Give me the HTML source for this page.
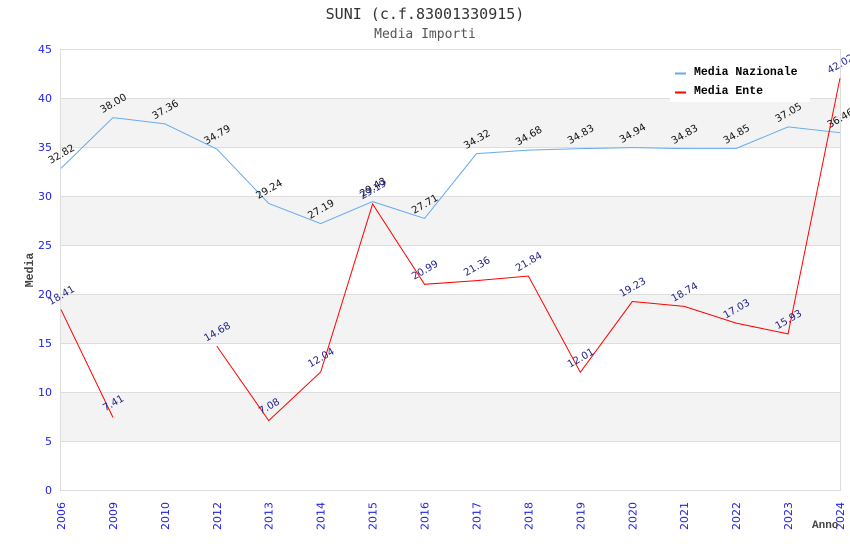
<!DOCTYPE html>
<html><head><meta charset="utf-8"><style>
html,body{margin:0;padding:0;background:#fff;}
svg{display:block;}
</style></head><body>
<svg width="850" height="550" viewBox="0 0 850 550" xmlns="http://www.w3.org/2000/svg">
<rect x="0" y="0" width="850" height="550" fill="#fff"/>
<g fill="#f3f3f3">
<rect x="61" y="98" width="779" height="49"/>
<rect x="61" y="196" width="779" height="49"/>
<rect x="61" y="294" width="779" height="49"/>
<rect x="61" y="392" width="779" height="49"/>
</g>
<g stroke="#dddddd" stroke-width="1">
<line x1="61" y1="98.5" x2="840" y2="98.5"/>
<line x1="61" y1="147.5" x2="840" y2="147.5"/>
<line x1="61" y1="196.5" x2="840" y2="196.5"/>
<line x1="61" y1="245.5" x2="840" y2="245.5"/>
<line x1="61" y1="294.5" x2="840" y2="294.5"/>
<line x1="61" y1="343.5" x2="840" y2="343.5"/>
<line x1="61" y1="392.5" x2="840" y2="392.5"/>
<line x1="61" y1="441.5" x2="840" y2="441.5"/>
<rect x="60.5" y="49.5" width="780" height="441" fill="none"/>
</g>
<text x="425" y="19" text-anchor="middle" font-family="DejaVu Sans Mono, Liberation Mono, monospace" font-size="15" fill="#333">SUNI (c.f.83001330915)</text>
<text x="425" y="38" text-anchor="middle" font-family="DejaVu Sans Mono, Liberation Mono, monospace" font-size="13" fill="#555">Media Importi</text>
<g font-family="DejaVu Sans, sans-serif" font-size="11" fill="#2222ee" text-anchor="end">
<text x="52" y="53">45</text>
<text x="52" y="102">40</text>
<text x="52" y="151">35</text>
<text x="52" y="200">30</text>
<text x="52" y="249">25</text>
<text x="52" y="298">20</text>
<text x="52" y="347">15</text>
<text x="52" y="396">10</text>
<text x="52" y="445">5</text>
<text x="52" y="494">0</text>
</g>
<g font-family="DejaVu Sans, sans-serif" font-size="11" fill="#2222ee" text-anchor="end">
<text transform="translate(65,502) rotate(-90)">2006</text>
<text transform="translate(116.93,502) rotate(-90)">2009</text>
<text transform="translate(168.87,502) rotate(-90)">2010</text>
<text transform="translate(220.8,502) rotate(-90)">2012</text>
<text transform="translate(272.73,502) rotate(-90)">2013</text>
<text transform="translate(324.67,502) rotate(-90)">2014</text>
<text transform="translate(376.6,502) rotate(-90)">2015</text>
<text transform="translate(428.53,502) rotate(-90)">2016</text>
<text transform="translate(480.47,502) rotate(-90)">2017</text>
<text transform="translate(532.4,502) rotate(-90)">2018</text>
<text transform="translate(584.33,502) rotate(-90)">2019</text>
<text transform="translate(636.27,502) rotate(-90)">2020</text>
<text transform="translate(688.2,502) rotate(-90)">2021</text>
<text transform="translate(740.13,502) rotate(-90)">2022</text>
<text transform="translate(792.07,502) rotate(-90)">2023</text>
<text transform="translate(844,502) rotate(-90)">2024</text>
</g>
<text x="812" y="528" font-family="Liberation Mono, DejaVu Sans Mono, monospace" font-weight="bold" font-size="11" fill="#444">Anno</text>
<text transform="translate(33,270) rotate(-90)" text-anchor="middle" font-family="Liberation Mono, DejaVu Sans Mono, monospace" font-weight="bold" font-size="11.5" fill="#444">Media</text>
<polyline fill="none" stroke="#66aaee" stroke-width="1" points="61,168.36 112.93,117.6 164.87,123.87 216.8,149.06 268.73,203.45 320.67,223.54 372.6,201.59 424.53,218.44 476.47,153.66 528.4,150.14 580.33,148.67 632.27,147.59 684.2,148.67 736.13,148.47 788.07,126.91 840,132.69"/>
<polyline fill="none" stroke="#ff0000" stroke-width="1" points="61,309.58 112.93,417.38"/>
<polyline fill="none" stroke="#ff0000" stroke-width="1" points="216.8,346.14 268.73,420.62 320.67,372.01 372.6,203.94 424.53,284.3 476.47,280.67 528.4,275.97 580.33,372.3 632.27,301.55 684.2,306.35 736.13,323.11 788.07,333.89 840,78.2"/>
<g font-family="DejaVu Sans, sans-serif" font-size="10" fill="#111" text-anchor="middle">
<text transform="translate(61,153.36) rotate(-30)" y="4">32.82</text>
<text transform="translate(112.93,102.6) rotate(-30)" y="4">38.00</text>
<text transform="translate(164.87,108.87) rotate(-30)" y="4">37.36</text>
<text transform="translate(216.8,134.06) rotate(-30)" y="4">34.79</text>
<text transform="translate(268.73,188.45) rotate(-30)" y="4">29.24</text>
<text transform="translate(320.67,208.54) rotate(-30)" y="4">27.19</text>
<text transform="translate(372.6,186.59) rotate(-30)" y="4">29.43</text>
<text transform="translate(424.53,203.44) rotate(-30)" y="4">27.71</text>
<text transform="translate(476.47,138.66) rotate(-30)" y="4">34.32</text>
<text transform="translate(528.4,135.14) rotate(-30)" y="4">34.68</text>
<text transform="translate(580.33,133.67) rotate(-30)" y="4">34.83</text>
<text transform="translate(632.27,132.59) rotate(-30)" y="4">34.94</text>
<text transform="translate(684.2,133.67) rotate(-30)" y="4">34.83</text>
<text transform="translate(736.13,133.47) rotate(-30)" y="4">34.85</text>
<text transform="translate(788.07,111.91) rotate(-30)" y="4">37.05</text>
<text transform="translate(840,117.69) rotate(-30)" y="4">36.46</text>
</g>
<g font-family="DejaVu Sans, sans-serif" font-size="10" fill="#22228a" text-anchor="middle">
<text transform="translate(61,294.58) rotate(-30)" y="4">18.41</text>
<text transform="translate(112.93,402.38) rotate(-30)" y="4">7.41</text>
<text transform="translate(216.8,331.14) rotate(-30)" y="4">14.68</text>
<text transform="translate(268.73,405.62) rotate(-30)" y="4">7.08</text>
<text transform="translate(320.67,357.01) rotate(-30)" y="4">12.04</text>
<text transform="translate(372.6,188.94) rotate(-30)" y="4">29.19</text>
<text transform="translate(424.53,269.3) rotate(-30)" y="4">20.99</text>
<text transform="translate(476.47,265.67) rotate(-30)" y="4">21.36</text>
<text transform="translate(528.4,260.97) rotate(-30)" y="4">21.84</text>
<text transform="translate(580.33,357.3) rotate(-30)" y="4">12.01</text>
<text transform="translate(632.27,286.55) rotate(-30)" y="4">19.23</text>
<text transform="translate(684.2,291.35) rotate(-30)" y="4">18.74</text>
<text transform="translate(736.13,308.11) rotate(-30)" y="4">17.03</text>
<text transform="translate(788.07,318.89) rotate(-30)" y="4">15.93</text>
<text transform="translate(840,63.2) rotate(-30)" y="4">42.02</text>
</g>
<rect x="670" y="58" width="140" height="44" fill="#fff"/>
<line x1="675" y1="73.5" x2="686" y2="73.5" stroke="#66aaee" stroke-width="2"/>
<line x1="675" y1="92.5" x2="686" y2="92.5" stroke="#ff0000" stroke-width="2"/>
<g font-family="Liberation Mono, DejaVu Sans Mono, monospace" font-weight="bold" font-size="11.5" fill="#000">
<text x="694" y="75">Media Nazionale</text>
<text x="694" y="94">Media Ente</text>
</g>
</svg>
</body></html>
